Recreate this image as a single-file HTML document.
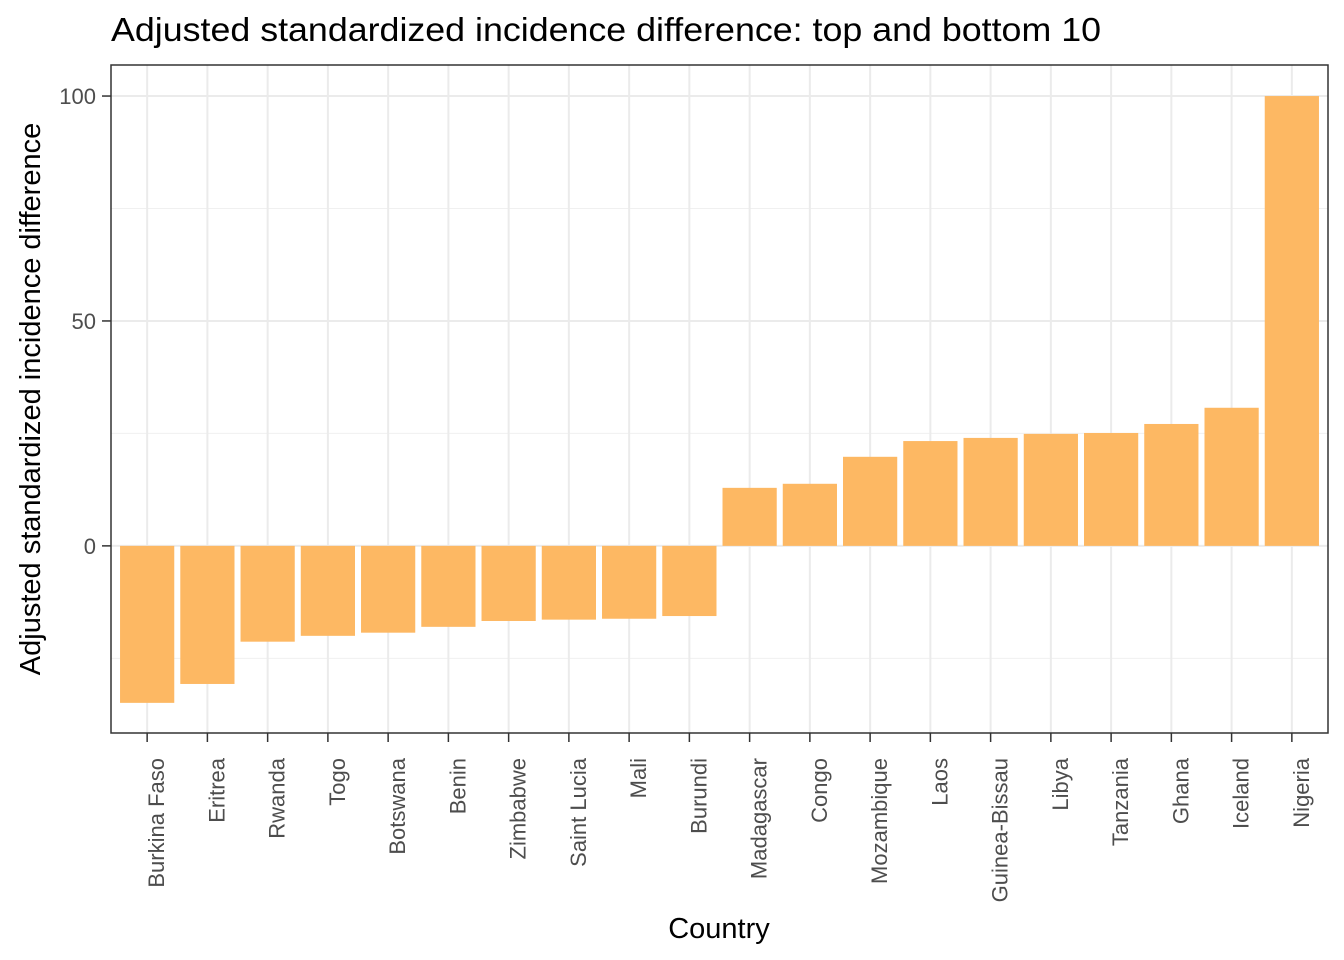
<!DOCTYPE html>
<html><head><meta charset="utf-8"><style>
body{margin:0;background:#fff;}
svg{display:block;font-family:"Liberation Sans",sans-serif;}
</style></head><body>
<svg id="chart" width="1344" height="960">
<text x="111" y="41" font-size="33" fill="#000" textLength="990" lengthAdjust="spacingAndGlyphs">Adjusted standardized incidence difference: top and bottom 10</text>
<text transform="translate(40,399) rotate(-90)" text-anchor="middle" font-size="29" fill="#000">Adjusted standardized incidence difference</text>
<text x="719" y="938" text-anchor="middle" font-size="29" fill="#000">Country</text>
<g id="grid"></g><g id="bars"></g><g id="axes"></g>
<rect x="111" y="65" width="1217" height="668" fill="none" stroke="#333" stroke-width="1.5"/>
</svg>
<script>
const categories=["Burkina Faso","Eritrea","Rwanda","Togo","Botswana","Benin","Zimbabwe","Saint Lucia","Mali","Burundi","Madagascar","Congo","Mozambique","Laos","Guinea-Bissau","Libya","Tanzania","Ghana","Iceland","Nigeria"];
const values=[-34.9,-30.7,-21.3,-20,-19.3,-18,-16.7,-16.4,-16.2,-15.6,12.9,13.8,19.8,23.3,24,24.9,25.1,27.1,30.7,100];
const yTicks=[0,50,100];
const yMinor=[-25,25,75];
const ns="http://www.w3.org/2000/svg";
const L=111,R=1328,T=65,B=733;
const yMin=-41.6,yMax=106.9;
const y=v=>B-(v-yMin)/(yMax-yMin)*(B-T);
const step=(R-L)/(categories.length-1+1.2);
const x=i=>L+step*(0.6+i);
function mk(tag,attrs,parent){const e=document.createElementNS(ns,tag);for(const k in attrs)e.setAttribute(k,attrs[k]);parent.appendChild(e);return e;}
const grid=document.getElementById('grid'),bars=document.getElementById('bars'),axes=document.getElementById('axes');
yMinor.forEach(v=>{const l=mk('line',{x1:L,x2:R,y1:y(v),y2:y(v),stroke:'#f0f0f0','stroke-width':1},grid);

});
yTicks.forEach(v=>{const l=mk('line',{x1:L,x2:R,y1:y(v),y2:y(v),stroke:'#ebebeb','stroke-width':2},grid);


const t=mk('line',{x1:L-9,x2:L,y1:y(v),y2:y(v),stroke:'#333','stroke-width':1.5},axes);


const tx=mk('text',{x:L-15,y:y(v)+8,'text-anchor':'end','font-size':22,fill:'#4d4d4d'},axes);tx.textContent=v;

});
categories.forEach((c,i)=>{const cx=x(i);
const g=mk('line',{x1:cx,x2:cx,y1:T,y2:B,stroke:'#ebebeb','stroke-width':2},grid);


const v=values[i],w=step*0.9;
const r=mk('rect',{x:cx-w/2,y:Math.min(y(v),y(0)),width:w,height:Math.abs(y(v)-y(0)),fill:'#fdb863'},bars);


const t=mk('line',{x1:cx,x2:cx,y1:B,y2:B+9,stroke:'#333','stroke-width':1.5},axes);


const tx=mk('text',{transform:`translate(${cx+17},${B+25}) rotate(-90)`,'text-anchor':'end','font-size':22,fill:'#4d4d4d'},axes);tx.textContent=c;

});
</script>
</body></html>
